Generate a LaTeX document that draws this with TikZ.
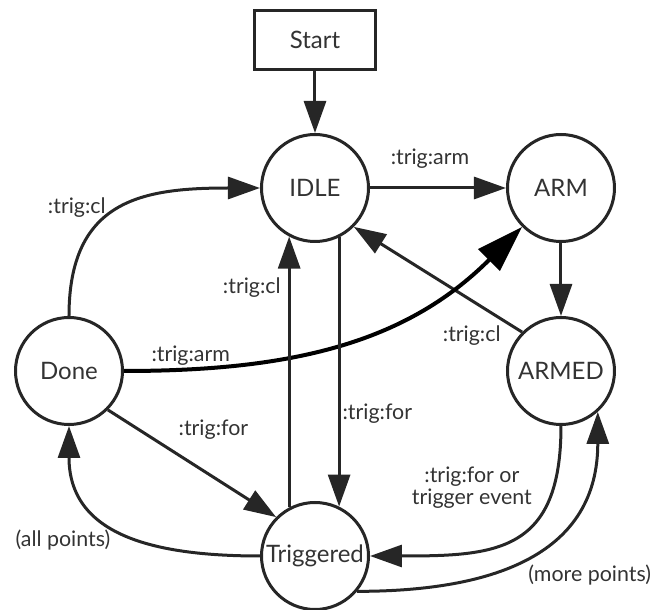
\documentclass[tikz,border=0pt]{standalone}
\usepackage{fontspec}
\setmainfont{Lato}
\usepackage{xcolor}
\usetikzlibrary{arrows.meta,positioning}

\definecolor{inkgray}{HTML}{262626}
\definecolor{txtgray}{HTML}{333333}

\begin{document}
\begin{tikzpicture}[
  >={Triangle[length=16pt,width=11pt]},
  node distance=91.5pt and 123pt, on grid,
  state/.style={
    draw=inkgray,
    circle,
    line width=1.5pt,
    minimum size=53.5pt,
    inner sep=0pt,
    text=txtgray,
    font=\fontsize{12}{14}\selectfont
  },
  startbox/.style={state, rectangle, minimum width=60.5pt, minimum height=29.5pt},
  lbl/.style={text=txtgray, inner sep=1pt, align=center, font=\fontsize{10.7}{11}\selectfont},
  arr/.style={->, draw=inkgray, line width=1.5pt},
  bigarr/.style={-{Triangle[length=23.5pt,width=15pt]}, draw=black, line width=2pt}
]
\useasboundingbox (-157.5pt,20pt) rectangle (167.5pt,-285pt);

\node[startbox] (start) {Start};
\node[state, below=74pt of start] (idle) {IDLE};
\node[state, right=of idle] (arm) {ARM};
\node[state, below=of arm] (armed) {ARMED};
\node[state, below left=of idle] (done) {Done};
\node[state, below=184pt of idle] (trig) {Triggered};

\draw[arr] (start) -- (idle);
\draw[arr] (idle) -- node[lbl, above=8pt, xshift=-4pt] {:trig:arm} (arm);
\draw[arr] (arm) -- (armed);
\draw[arr] (armed.135) -- node[lbl, pos=0, left=9pt, yshift=-1.5pt] {:trig:cl} (idle.-45);
\draw[bigarr] (done) to[out=0, in=225]
  node[lbl, pos=0.14, above=0pt] {:trig:arm} (arm.225);
\draw[arr] (done) to[out=90, in=180, looseness=1.3]
  node[lbl, pos=0.45, left=1pt, yshift=3pt] {:trig:cl} (idle);
\draw[arr] (trig.118) -- node[lbl, pos=0.81, left=2.5pt] {:trig:cl} (idle.242);
\draw[arr] (idle.296) -- node[lbl, pos=0.655, right=0pt] {:trig:for} (trig.64);
\draw[arr] (done.-45) -- node[lbl, pos=0.4, anchor=south west, yshift=5pt] {:trig:for} (trig.135);
\draw[arr] (trig) to[out=180, in=270, looseness=1.2]
  node[lbl, pos=0.5, left=5pt, yshift=-4pt] {(all points)} (done);
\draw[arr] (armed) to[out=270, in=0, looseness=1.4]
  node[lbl, pos=0.2, left=9pt] {:trig:for or\\trigger event} (trig);
\draw[arr] (trig.-40) to[out=0, in=270, looseness=1.2]
  node[lbl, pos=0.48, anchor=north west, yshift=-2pt] {(more points)} (armed.-48);
\end{tikzpicture}
\end{document}
